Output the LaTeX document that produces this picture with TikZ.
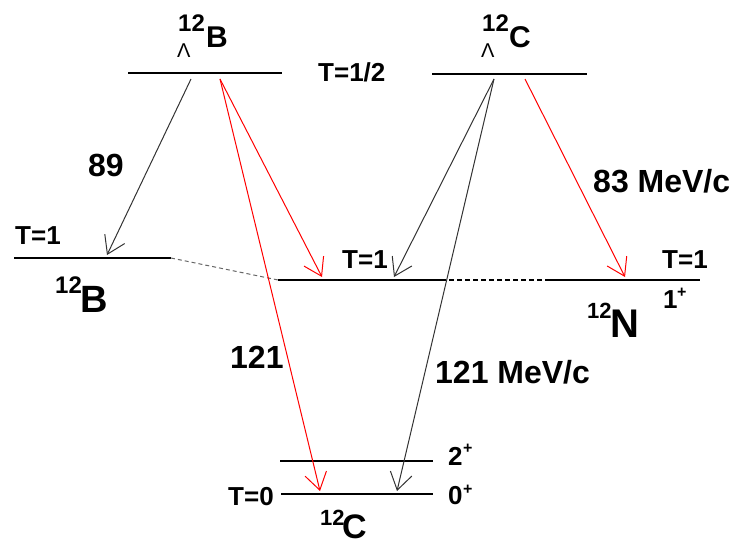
\documentclass[tikz,border=0pt]{standalone}
\usepackage{fontspec}
\setmainfont{Liberation Sans}
\usetikzlibrary{arrows.meta}
\begin{document}
\begin{tikzpicture}[x=1pt,y=-1pt,
  level/.style={line width=1.8pt,black},
  trans/.style={line width=1pt,-{Straight Barb[length=17pt,width=22pt,line width=1pt]}},
  redtr/.style={trans,red},
  blktr/.style={trans,black!80},
  txt/.style={inner sep=0pt,anchor=base west,font=\bfseries\fontsize{#1}{#1}\selectfont},
  txt/.default=26,
  lam/.style={inner sep=0pt,anchor=base west,font=\fontsize{20}{20}\selectfont},
  dashgray/.style={line width=1pt,black!60,dash pattern=on 4pt off 3pt},
  dashblk/.style={line width=1.5pt,black,dash pattern=on 5pt off 3pt}]
\useasboundingbox (0,0) rectangle (733,545);
% level end points
\coordinate (lbA) at (128,73); \coordinate (lbB) at (282,73);
\coordinate (lcA) at (432,74); \coordinate (lcB) at (587,74);
\coordinate (bA) at (14,258); \coordinate (bB) at (171,258);
\coordinate (mA) at (278,280); \coordinate (mB) at (441,280);
\coordinate (mC) at (545,280); \coordinate (mD) at (700,280);
\coordinate (c2A) at (280,461); \coordinate (c2B) at (433,461);
\coordinate (c0A) at (281,494); \coordinate (c0B) at (433,494);
% levels
\draw[level] (lbA) -- (lbB);
\draw[level] (lcA) -- (lcB);
\draw[level] (bA) -- (bB);
\draw[level] (mA) -- (mB);
\draw[dashblk] (mB) -- (mC);
\draw[level] (mC) -- (mD);
\draw[level] (c2A) -- (c2B);
\draw[level] (c0A) -- (c0B);
\draw[dashgray] (bB) -- (mA);
% transition end points
\coordinate (s1) at (191,79); \coordinate (s2) at (220,79);
\coordinate (s3) at (494,79); \coordinate (s4) at (525,79);
\coordinate (e1) at (107,255); \coordinate (e2) at (322,277);
\coordinate (e3) at (320,491); \coordinate (e4) at (394,277);
\coordinate (e5) at (397,491); \coordinate (e6) at (625,277);
\draw[blktr] (s1) -- (e1);
\draw[redtr] (s2) -- (e2);
\draw[redtr] (s2) -- (e3);
\draw[blktr] (s3) -- (e4);
\draw[blktr] (s3) -- (e5);
\draw[redtr] (s4) -- (e6);
% hypernuclei labels
\node[txt=24] (hb12) at (178,32) {12};
\node[txt=30] (hbB) at (206,48) {B};
\node[lam] (hbL) at (177,58) {Λ};
\node[txt=24] (hc12) at (482,32) {12};
\node[txt=30] (hcC) at (509,48) {C};
\node[lam] (hcL) at (481,58) {Λ};
% isospin labels
\node[txt] (thalf) at (318,82) {T=1/2};
\node[txt] (tb) at (15,245) {T=1};
\node[txt] (tm) at (342,269) {T=1};
\node[txt] (tr) at (662,269) {T=1};
\node[txt] (t0) at (228,505) {T=0};
% spin labels
\node[txt] (j2) at (448,465) {2};
\node[txt=16] (j2p) at (463,453) {+};
\node[txt] (j0) at (448,504) {0};
\node[txt=16] (j0p) at (463,494) {+};
\node[txt] (j1) at (663,308) {1};
\node[txt=16] (j1p) at (677,298) {+};
% nuclide labels
\node[txt=24] (nb12) at (55,293) {12};
\node[txt=38] (nbB) at (80,312) {B};
\node[txt=22] (nn12) at (587,318) {12};
\node[txt=40] (nnN) at (610,337) {N};
\node[txt=22] (nc12) at (320,525) {12};
\node[txt=34] (ncC) at (342,538) {C};
% momentum labels
\node[txt=32] (m89) at (88,177) {89};
\node[txt=32] (m83) at (593,193) {83 MeV/c};
\node[txt=32] (m121a) at (230,368) {121};
\node[txt=32] (m121b) at (435,383) {121 MeV/c};
\end{tikzpicture}
\end{document}
